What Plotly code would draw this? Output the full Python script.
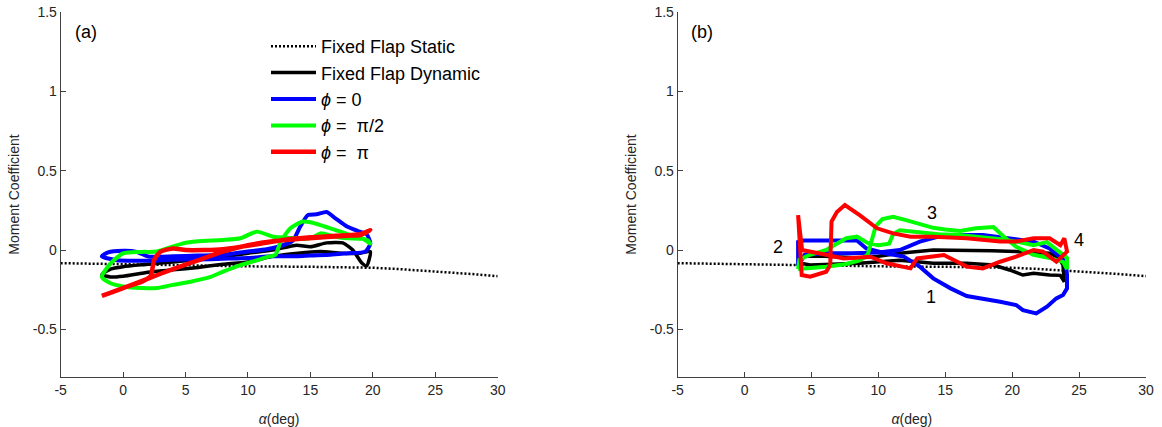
import plotly.graph_objects as go

# ---------------- data ----------------
# Fixed flap static (both panels)
static_alpha = [-5, 0, 5, 10, 15, 18, 20, 22, 24, 26, 28, 30]
static_cm = [-0.083, -0.09, -0.097, -0.103, -0.106, -0.108, -0.112, -0.12, -0.13, -0.14, -0.152, -0.165]

# Panel (a)
a_black_alpha = [-1.7, -1, 0, 2, 4, 6, 8, 10, 12, 13.9, 15, 16.3, 17.6, 18.4, 19.1, 19.5, 19.8,
                 19, 17.5, 15.8, 14, 12, 10, 8, 6, 4, 2, 0, -1, -1.7]
a_black_cm = [-0.155, -0.12, -0.105, -0.09, -0.075, -0.06, -0.045, -0.02, 0.0, 0.03, 0.02, 0.045, 0.045, 0.0, -0.08, -0.1, -0.01,
              -0.02, -0.02, -0.01, -0.02, -0.04, -0.075, -0.09, -0.11, -0.125, -0.14, -0.165, -0.17, -0.155]

a_blue_alpha = [-1.7, -1.2, 0, 1, 2, 4, 6, 8, 10, 11.5, 12.8, 13.6, 14.2, 14.8, 15.5, 16.3, 17, 17.9, 18.8, 19.5, 19.8,
                19.4, 18, 16.6, 15, 13.9, 12, 10, 8, 6, 4, 2.7, 1, -0.5, -1.7]
a_blue_cm = [-0.04, -0.015, -0.005, -0.01, -0.04, -0.04, -0.035, -0.03, -0.01, 0.005, 0.03, 0.06, 0.15, 0.22, 0.225, 0.24, 0.2, 0.15, 0.12, 0.1, 0.04,
             -0.01, -0.02, -0.03, -0.035, -0.04, -0.04, -0.05, -0.055, -0.06, -0.06, -0.067, -0.068, -0.065, -0.04]

a_green_alpha = [-1.7, -1, 0, 1.5, 2.7, 4, 5.4, 7, 8, 9.4, 10.5, 11.5, 12.2, 12.6, 13.4, 14.4, 15, 16.6, 18, 18.7, 19.6, 19.8,
                 19.2, 18, 17, 15.8, 15.2, 14.5, 13.5, 12.5, 12, 10.7, 9.4, 8, 6, 4.8, 2.7, 1.5, 0, -1, -1.7]
a_green_cm = [-0.17, -0.21, -0.23, -0.24, -0.24, -0.22, -0.2, -0.17, -0.137, -0.095, -0.07, -0.045, -0.03, 0.05, 0.137, 0.18, 0.175, 0.137, 0.1, 0.084, 0.06, 0.04,
              0.07, 0.074, 0.084, 0.105, 0.08, 0.07, 0.075, 0.08, 0.084, 0.116, 0.074, 0.063, 0.055, 0.042, -0.01, -0.012, -0.021, -0.084, -0.17]

a_red_alpha = [-1.7, 0, 2, 4, 6, 8, 10, 12, 14, 16, 18, 19, 19.8,
               19, 17, 15, 13, 11, 9.4, 8, 6.5, 5, 4, 3, 2.5, 2.2, 1.5, 0, -1.7]
a_red_cm = [-0.29, -0.24, -0.18, -0.12, -0.065, -0.01, 0.03, 0.055, 0.07, 0.08, 0.09, 0.095, 0.125,
            0.1, 0.09, 0.08, 0.065, 0.04, 0.02, 0.005, 0.0, 0.0, 0.01, -0.01, -0.06, -0.165, -0.2, -0.24, -0.29]

# Panel (b)
b_black_alpha = [4.0, 4.5, 6, 8.6, 10, 11.6, 14.1, 16.6, 18.5, 20.3, 22.8, 23.5, 23.8, 23.9,
                 23.6, 22.8, 21.6, 20.8, 19.8, 18.6, 16.6, 14.1, 11.6, 8.6, 6, 4.9, 4.3, 4.0]
b_black_cm = [-0.06, -0.04, -0.04, -0.05, -0.04, -0.02, 0.0, 0.0, -0.005, -0.01, -0.02, -0.05, -0.095, -0.2,
              -0.16, -0.158, -0.147, -0.158, -0.126, -0.095, -0.084, -0.084, -0.065, -0.084, -0.09, -0.095, -0.085, -0.06]

b_blue_alpha = [4.0, 4.0, 4.4, 8.4, 9.1, 10.5, 11.9, 13.1, 14.1, 15.4, 16.6, 18.6, 19.1, 20.3, 20.8, 21.8, 22.6, 23.3, 23.8, 24.1, 24.1, 24.0,
                22.8, 21.6, 19.8, 17.8, 14.9, 13.1, 11.6, 10, 8, 6, 4.5, 4.0]
b_blue_cm = [-0.1, 0.05, 0.06, 0.06, 0.01, -0.02, -0.042, -0.105, -0.179, -0.242, -0.29, -0.315, -0.326, -0.347, -0.379, -0.4, -0.358, -0.305, -0.284, -0.242, -0.158, -0.074,
             0.01, 0.053, 0.074, 0.095, 0.095, 0.053, 0.0, -0.015, -0.02, -0.02, -0.03, -0.1]

b_green_alpha = [4.0, 5, 6.1, 7.5, 8.6, 9.2, 9.5, 9.8, 10.3, 11.1, 12, 13.1, 14.1, 15, 16.1, 17.3, 18.6, 19.3, 20.3, 21.6, 22.8, 23.8, 24.1,
                 24.1, 23.4, 22.6, 21.6, 20.5, 19, 17.5, 16, 14.5, 13, 11.6, 11.1, 10.8, 10, 9.2, 8.4, 7.6, 6.1, 4.9, 4.1, 4.0]
b_green_cm = [-0.12, -0.115, -0.105, -0.09, -0.065, -0.03, 0.05, 0.15, 0.195, 0.21, 0.19, 0.165, 0.14, 0.13, 0.12, 0.137, 0.145, 0.09, 0.02, -0.03, -0.05, -0.075, -0.12,
              -0.05, 0.0, 0.05, 0.03, 0.05, 0.07, 0.085, 0.095, 0.1, 0.11, 0.125, 0.1, 0.04, 0.03, 0.045, 0.084, 0.074, 0.0, -0.03, -0.06, -0.12]

b_red_alpha = [6.4, 6.5, 6.9, 7.5, 8.6, 9.9, 11.1, 12.4, 14.1, 16.6, 19.1, 20.3, 21.6, 22.8, 23.6, 23.9, 24.1,
               23.3, 22.3, 21.6, 20.3, 19.1, 17.8, 16.6, 14.9, 12.9, 12.4, 10.6, 9.4, 7.4, 6.1, 4.9, 4.3, 4.0,
               4.27, 4.9, 6.1, 6.4]
b_red_cm = [-0.095, 0.179, 0.24, 0.284, 0.22, 0.137, 0.105, 0.084, 0.084, 0.074, 0.053, 0.053, 0.074, 0.074, 0.03, 0.074, -0.01,
            -0.074, -0.01, 0.0, -0.042, -0.074, -0.116, -0.105, -0.032, -0.053, -0.116, -0.084, -0.042, -0.053, -0.03, -0.01, 0.0, 0.22,
            -0.158, -0.168, -0.137, -0.095]

series_names = ["Fixed Flap Static", "Fixed Flap Dynamic", "<i>ϕ</i> = 0", "<i>ϕ</i> =  π/2", "<i>ϕ</i> =  π"]

x_ticks = [-5, 0, 5, 10, 15, 20, 25, 30]
x_ticktext = ["-5", "0", "5", "10", "15", "20", "25", "30"]
y_ticks = [-0.5, 0, 0.5, 1, 1.5]
y_ticktext = ["-0.5", "0", "0.5", "1", "1.5"]

# ---------------- figure ----------------
fig = go.Figure()
BLUE, GREEN, RED, BLACK = "#0000ff", "#00ff00", "#ff0000", "#000000"

def add(x, y, color, width, name, xa, ya, show, dash=None, shape="linear"):
    fig.add_trace(go.Scatter(
        x=x, y=y, mode="lines", name=name, showlegend=show,
        line=dict(color=color, width=width, dash=dash, shape=shape, smoothing=0.6),
        xaxis=xa, yaxis=ya, hoverinfo="skip"))

# panel (a)
add(static_alpha, static_cm, BLACK, 2.5, series_names[0], "x", "y", True, dash="2px,2px")
add(a_black_alpha, a_black_cm, BLACK, 3.5, series_names[1], "x", "y", True, shape="spline")
add(a_blue_alpha, a_blue_cm, BLUE, 4, series_names[2], "x", "y", True, shape="spline")
add(a_green_alpha, a_green_cm, GREEN, 4, series_names[3], "x", "y", True, shape="spline")
add(a_red_alpha, a_red_cm, RED, 4.5, series_names[4], "x", "y", True, shape="spline")
# panel (b)
add(static_alpha, static_cm, BLACK, 2.5, series_names[0], "x2", "y2", False, dash="2px,2px")
add(b_black_alpha, b_black_cm, BLACK, 3.5, series_names[1], "x2", "y2", False)
add(b_blue_alpha, b_blue_cm, BLUE, 4, series_names[2], "x2", "y2", False)
add(b_green_alpha, b_green_cm, GREEN, 4, series_names[3], "x2", "y2", False)
add(b_red_alpha, b_red_cm, RED, 4, series_names[4], "x2", "y2", False)

AX = "#404040"
FONT = "Liberation Sans, Arial, sans-serif"
TXT = "#262626"

def xaxis(domain, anchor):
    return dict(domain=domain, anchor=anchor, range=[-5, 30], tickvals=x_ticks, ticktext=x_ticktext,
                ticks="inside", ticklen=5, tickcolor=AX, showline=True, linecolor=AX, linewidth=1,
                showgrid=False, zeroline=False, automargin=False,
                tickfont=dict(size=14, color=TXT, family=FONT),
                title=dict(text="<i>α</i>(deg)", font=dict(size=14, color=TXT, family=FONT), standoff=21))

def yaxis(anchor):
    return dict(domain=[0.1176, 0.9712], anchor=anchor, range=[-0.8, 1.5], tickvals=y_ticks, ticktext=y_ticktext,
                ticks="inside", ticklen=5, tickcolor=AX, showline=True, linecolor=AX, linewidth=1,
                showgrid=False, zeroline=False, automargin=False,
                tickfont=dict(size=14, color=TXT, family=FONT),
                title=dict(text="Moment Coefficient", font=dict(size=14, color=TXT, family=FONT), standoff=9))

fig.update_layout(
    width=1162, height=427,
    margin=dict(l=0, r=0, t=0, b=0, autoexpand=False),
    paper_bgcolor="white", plot_bgcolor="white",
    xaxis=xaxis([0.0522, 0.4283], "y"),
    yaxis=yaxis("x"),
    xaxis2=xaxis([0.5832, 0.9862], "y2"),
    yaxis2=yaxis("x2"),
    font=dict(family=FONT, color=TXT),
    legend=dict(x=266 / 1162, y=1 - 28 / 427, xanchor="left", yanchor="top",
                bgcolor="rgba(0,0,0,0)", borderwidth=0, itemwidth=45, tracegroupgap=0,
                font=dict(size=18, color="#000000", family=FONT)),
)

ann_font = dict(size=18, color="#000000", family=FONT)
for txt, x, y, xr, yr in [("(a)", -3.0, 1.375, "x", "y"), ("(b)", -3.2, 1.375, "x2", "y2"),
                          ("2", 2.5, 0.02, "x2", "y2"), ("3", 13.98, 0.232, "x2", "y2"),
                          ("1", 13.93, -0.297, "x2", "y2"), ("4", 25.0, 0.063, "x2", "y2")]:
    fig.add_annotation(text=txt, x=x, y=y, xref=xr, yref=yr, showarrow=False, font=ann_font)

fig.write_html("out.html")
